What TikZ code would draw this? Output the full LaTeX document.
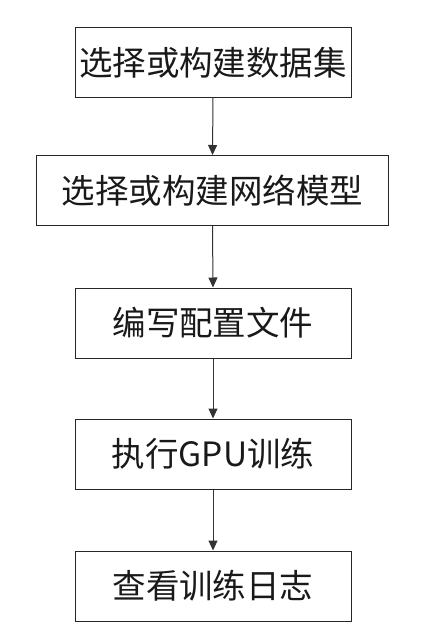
\documentclass[tikz,border=0pt]{standalone}
\usepackage{fontspec}
\newfontfamily\cjk{Noto Sans CJK SC}
\usetikzlibrary{arrows.meta}
\begin{document}
\begin{tikzpicture}[x=1pt,y=1pt,
  stepbox/.style={draw=black!85,line width=1pt,inner sep=0pt,font=\cjk\fontsize{33.5}{38}\selectfont,text=black!90},
  flow/.style={draw=black!80,line width=1pt,-{Triangle[width=9pt,length=10pt]}}]
\useasboundingbox (0,0) rectangle (439,-638);
\node[stepbox,minimum width=276pt,minimum height=70pt] (b1) at (213,-62.5) {选择或构建数据集};
\node[stepbox,minimum width=352pt,minimum height=70pt] (b2) at (212.5,-190.5) {选择或构建网络模型};
\node[stepbox,minimum width=276pt,minimum height=70pt] (b3) at (213,-323) {编写配置文件};
\node[stepbox,minimum width=276pt,minimum height=70pt] (b4) at (213,-454) {执行GPU训练};
\node[stepbox,minimum width=276pt,minimum height=70pt] (b5) at (213,-586) {查看训练日志};
\draw[flow] (b1.south) -- (b2.north);
\draw[flow] (b2.south) -- (b3.north);
\draw[flow] (b3.south) -- (b4.north);
\draw[flow] (b4.south) -- (b5.north);
\end{tikzpicture}
\end{document}
